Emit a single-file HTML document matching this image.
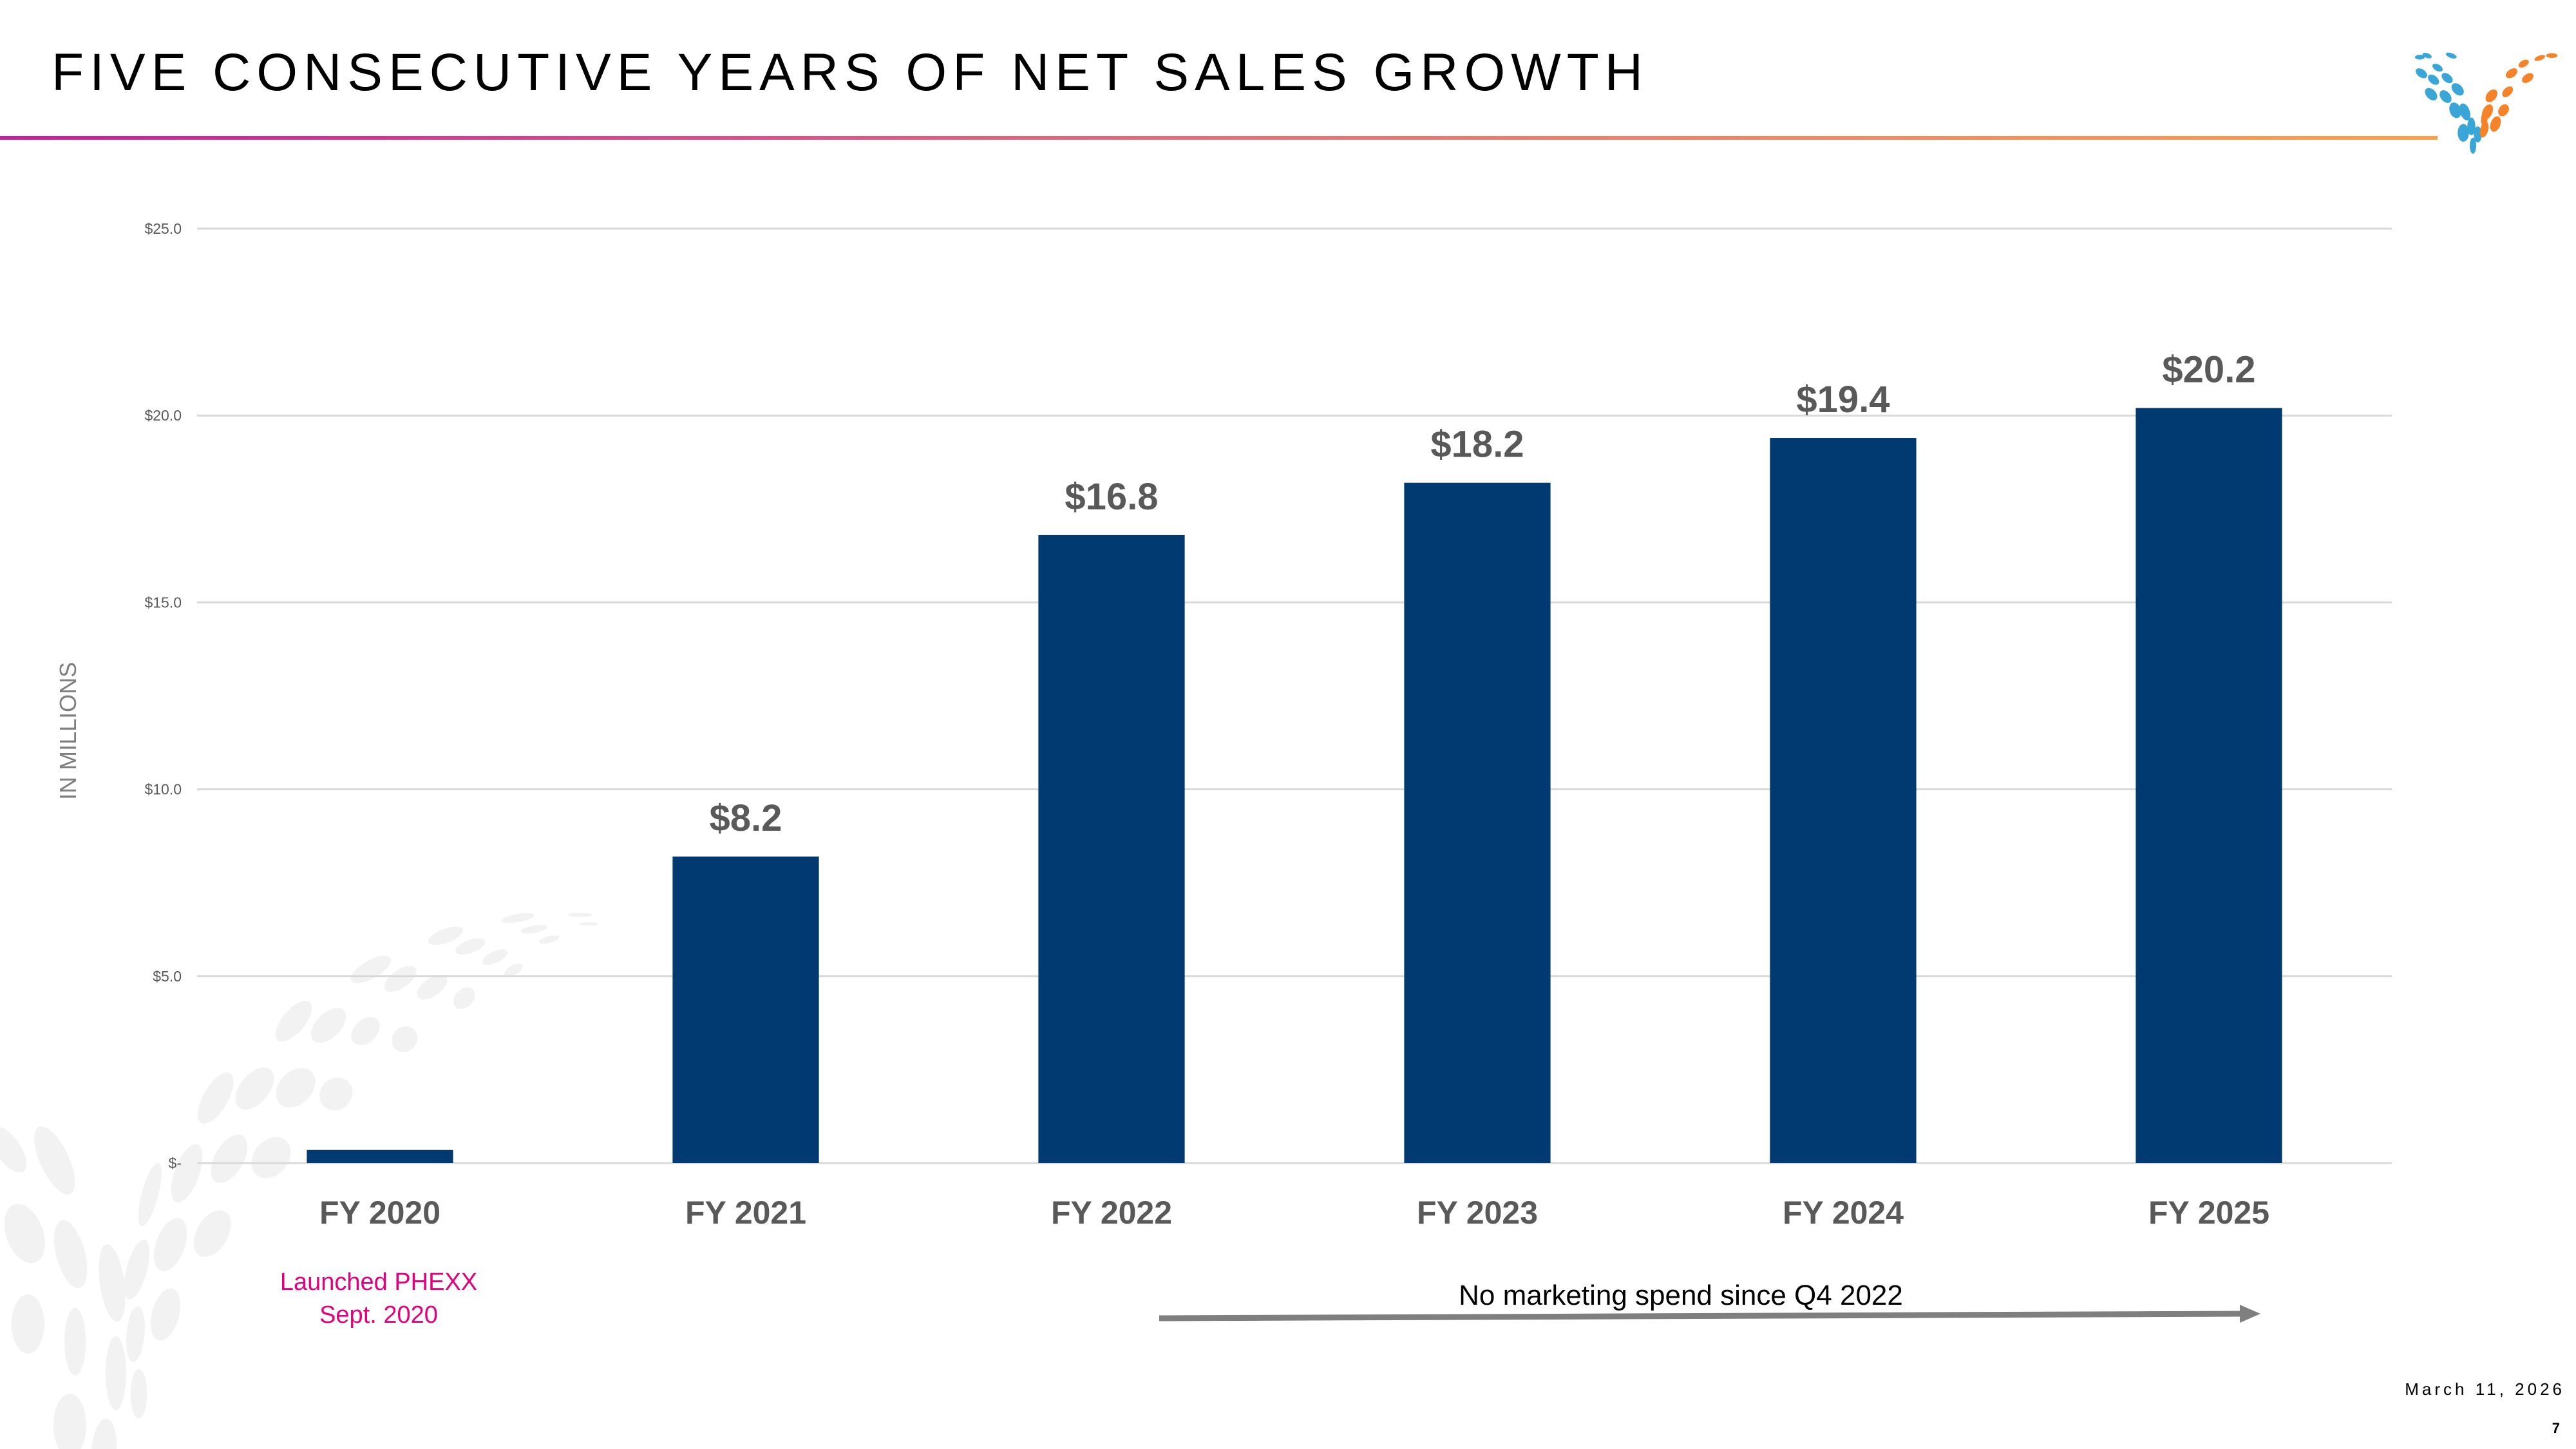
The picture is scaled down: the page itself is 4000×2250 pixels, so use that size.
<!DOCTYPE html>
<html><head><meta charset="utf-8"><style>
html,body{margin:0;padding:0;background:#fff;}
svg{display:block;}
text{font-family:"Liberation Sans",sans-serif;}
</style></head><body>
<svg id="chart" width="4000" height="2250" viewBox="0 0 4000 2250" xmlns="http://www.w3.org/2000/svg">
<defs>
<linearGradient id="hdr" x1="0" x2="1" y1="0" y2="0">
<stop offset="0" stop-color="#c4209a"/><stop offset="0.5" stop-color="#e5707a"/><stop offset="1" stop-color="#fba04a"/>
</linearGradient>
</defs>
<g fill="#f2f2f2" transform="translate(0 1300) scale(0.6378)">
<ellipse cx="1260" cy="197" rx="40" ry="10" transform="rotate(-10 1260 197)"/>
<ellipse cx="1300" cy="224" rx="33" ry="9" transform="rotate(-10 1300 224)"/>
<ellipse cx="1337" cy="249" rx="25" ry="8" transform="rotate(-15 1337 249)"/>
<ellipse cx="1413" cy="189" rx="30" ry="5"/>
<ellipse cx="1433" cy="211" rx="22" ry="4"/>
<ellipse cx="1085" cy="240" rx="45" ry="17" transform="rotate(-20 1085 240)"/>
<ellipse cx="1145" cy="266" rx="38" ry="16" transform="rotate(-20 1145 266)"/>
<ellipse cx="1205" cy="292" rx="33" ry="14" transform="rotate(-25 1205 292)"/>
<ellipse cx="1250" cy="324" rx="25" ry="12" transform="rotate(-30 1250 324)"/>
<ellipse cx="903" cy="322" rx="55" ry="22" transform="rotate(-30 903 322)"/>
<ellipse cx="975" cy="345" rx="45" ry="22" transform="rotate(-35 975 345)"/>
<ellipse cx="1052" cy="365" rx="42" ry="22" transform="rotate(-35 1052 365)"/>
<ellipse cx="1130" cy="392" rx="30" ry="22" transform="rotate(-45 1130 392)"/>
<ellipse cx="715" cy="448" rx="60" ry="28" transform="rotate(-50 715 448)"/>
<ellipse cx="800" cy="458" rx="52" ry="30" transform="rotate(-45 800 458)"/>
<ellipse cx="890" cy="472" rx="40" ry="28" transform="rotate(-45 890 472)"/>
<ellipse cx="985" cy="492" rx="33" ry="30" transform="rotate(-45 985 492)"/>
<ellipse cx="525" cy="635" rx="70" ry="30" transform="rotate(-60 525 635)"/>
<ellipse cx="620" cy="612" rx="60" ry="35" transform="rotate(-50 620 612)"/>
<ellipse cx="720" cy="610" rx="55" ry="40" transform="rotate(-45 720 610)"/>
<ellipse cx="818" cy="625" rx="42" ry="38" transform="rotate(-45 818 625)"/>
<ellipse cx="455" cy="818" rx="75" ry="30" transform="rotate(-70 455 818)"/>
<ellipse cx="558" cy="783" rx="65" ry="35" transform="rotate(-60 558 783)"/>
<ellipse cx="660" cy="780" rx="55" ry="42" transform="rotate(-50 660 780)"/>
<ellipse cx="365" cy="870" rx="80" ry="20" transform="rotate(-75 365 870)"/>
<ellipse cx="20" cy="760" rx="30" ry="65" transform="rotate(-35 20 760)"/>
<ellipse cx="133" cy="787" rx="35" ry="90" transform="rotate(-25 133 787)"/>
<ellipse cx="60" cy="965" rx="45" ry="75" transform="rotate(-20 60 965)"/>
<ellipse cx="172" cy="1015" rx="35" ry="85" transform="rotate(-15 172 1015)"/>
<ellipse cx="273" cy="1085" rx="30" ry="95" transform="rotate(-8 273 1085)"/>
<ellipse cx="333" cy="1052" rx="25" ry="75" transform="rotate(15 333 1052)"/>
<ellipse cx="415" cy="992" rx="35" ry="68" transform="rotate(20 415 992)"/>
<ellipse cx="517" cy="965" rx="38" ry="62" transform="rotate(30 517 965)"/>
<ellipse cx="68" cy="1185" rx="40" ry="72"/>
<ellipse cx="183" cy="1228" rx="26" ry="82"/>
<ellipse cx="282" cy="1305" rx="25" ry="90"/>
<ellipse cx="330" cy="1210" rx="22" ry="68" transform="rotate(5 330 1210)"/>
<ellipse cx="403" cy="1162" rx="33" ry="65" transform="rotate(15 403 1162)"/>
<ellipse cx="170" cy="1432" rx="40" ry="77"/>
<ellipse cx="253" cy="1490" rx="30" ry="75" transform="rotate(5 253 1490)"/>
<ellipse cx="338" cy="1355" rx="20" ry="60"/>
</g>
<text x="80" y="140" font-size="82" letter-spacing="9" fill="#000">FIVE CONSECUTIVE YEARS OF NET SALES GROWTH</text>
<rect x="0" y="211" width="3785" height="6" fill="url(#hdr)"/>
<g transform="translate(3750 80) scale(1.25) translate(-3780 -95)">
<g fill="#3aa6d8">
<ellipse cx="3795" cy="100" rx="6" ry="3" transform="rotate(20 3795 100)"/>
<ellipse cx="3808" cy="115" rx="7" ry="4" transform="rotate(30 3808 115)"/>
<ellipse cx="3825" cy="100" rx="7" ry="3" transform="rotate(20 3825 100)"/>
<ellipse cx="3786" cy="102" rx="6" ry="3"/>
<ellipse cx="3788" cy="122" rx="8" ry="5" transform="rotate(35 3788 122)"/>
<ellipse cx="3803" cy="130" rx="8" ry="5" transform="rotate(40 3803 130)"/>
<ellipse cx="3820" cy="128" rx="8" ry="5" transform="rotate(40 3820 128)"/>
<ellipse cx="3833" cy="142" rx="9" ry="6" transform="rotate(45 3833 142)"/>
<ellipse cx="3800" cy="148" rx="9" ry="6" transform="rotate(45 3800 148)"/>
<ellipse cx="3818" cy="151" rx="9" ry="6" transform="rotate(50 3818 151)"/>
<ellipse cx="3830" cy="168" rx="7" ry="10" transform="rotate(-20 3830 168)"/>
<ellipse cx="3842" cy="170" rx="6" ry="11" transform="rotate(-20 3842 170)"/>
<ellipse cx="3850" cy="188" rx="5" ry="11"/>
<ellipse cx="3858" cy="198" rx="5" ry="10"/>
<ellipse cx="3852" cy="212" rx="4" ry="10"/>
<ellipse cx="3840" cy="196" rx="7" ry="11"/>
</g>
<g fill="#f5832a">
<ellipse cx="3935" cy="103" rx="7" ry="3" transform="rotate(-20 3935 103)"/>
<ellipse cx="3950" cy="100" rx="7" ry="3"/>
<ellipse cx="3915" cy="110" rx="7" ry="4" transform="rotate(-30 3915 110)"/>
<ellipse cx="3920" cy="128" rx="8" ry="5" transform="rotate(-35 3920 128)"/>
<ellipse cx="3900" cy="122" rx="8" ry="5" transform="rotate(-35 3900 122)"/>
<ellipse cx="3895" cy="145" rx="8" ry="5" transform="rotate(-45 3895 145)"/>
<ellipse cx="3875" cy="150" rx="9" ry="6" transform="rotate(-50 3875 150)"/>
<ellipse cx="3890" cy="168" rx="8" ry="6" transform="rotate(-55 3890 168)"/>
<ellipse cx="3870" cy="170" rx="6" ry="10" transform="rotate(25 3870 170)"/>
<ellipse cx="3880" cy="185" rx="6" ry="10" transform="rotate(20 3880 185)"/>
<ellipse cx="3866" cy="192" rx="5" ry="10" transform="rotate(15 3866 192)"/>
<ellipse cx="3866" cy="180" rx="4" ry="9"/>
</g>
</g>
<g id="gridlines"></g>
<g id="yticks"></g>
<g id="bars"></g>
<g id="values"></g>
<g id="xlabels"></g>
<text transform="translate(118 1135) rotate(-90)" text-anchor="middle" font-size="36" fill="#7f7f7f">IN MILLIONS</text>
<g fill="#e3007d" font-size="38" text-anchor="middle">
<text x="588" y="2003">Launched PHEXX</text>
<text x="588" y="2054">Sept. 2020</text>
</g>
<text x="2610" y="2026" text-anchor="middle" font-size="44" fill="#000">No marketing spend since Q4 2022</text>
<g>
<path d="M1800 2047 L3480 2040" stroke="#7f7f7f" stroke-width="9" fill="none"/>
<path d="M3478 2026 L3510 2040 L3478 2054 Z" fill="#7f7f7f"/>
</g>
<text x="3983" y="2166" text-anchor="end" font-size="26" letter-spacing="5" fill="#000">March 11, 2026</text>
<text x="3975" y="2225" text-anchor="end" font-size="22" font-weight="bold" fill="#000">7</text>
</svg>
<script>
const categories = ["FY 2020","FY 2021","FY 2022","FY 2023","FY 2024","FY 2025"];
const values = [0.35, 8.2, 16.8, 18.2, 19.4, 20.2];
const valueLabels = ["", "$8.2", "$16.8", "$18.2", "$19.4", "$20.2"];
const yTicks = [0, 5, 10, 15, 20, 25];
const yTickLabels = ["$-", "$5.0", "$10.0", "$15.0", "$20.0", "$25.0"];

const NS = "http://www.w3.org/2000/svg";
const plotL = 306, plotR = 3714, plotTop = 355, plotBot = 1806, yMax = 25;
const band = (plotR - plotL) / categories.length;
function y(v){ return plotBot - (v / yMax) * (plotBot - plotTop); }
function xc(i){ return plotL + band * (i + 0.5); }
function mk(tag, attrs, parent){ const e = document.createElementNS(NS, tag); for (const k in attrs) e.setAttribute(k, attrs[k]); parent.appendChild(e); return e; }

const grid = document.getElementById('gridlines');
const yt = document.getElementById('yticks');
yTicks.forEach((t, i) => {
  const l = mk('line', {x1: plotL, x2: plotR, y1: y(t), y2: y(t), stroke: '#d9d9d9', 'stroke-width': 3}, grid);
  
  
  const tx = mk('text', {x: 282, y: y(t) + 8, 'text-anchor': 'end', 'font-size': 23, fill: '#595959'}, yt);
  tx.textContent = yTickLabels[i];
  
  
});

const bars = document.getElementById('bars');
const vals = document.getElementById('values');
const xl = document.getElementById('xlabels');
const bw = band * 0.4;
categories.forEach((c, i) => {
  const r = mk('rect', {x: xc(i) - bw / 2, y: y(values[i]), width: bw, height: plotBot - y(values[i]), fill: '#003a70'}, bars);
  
  
  if (valueLabels[i]) {
    const v = mk('text', {x: xc(i), y: y(values[i]) - 40, 'text-anchor': 'middle', 'font-size': 58, 'font-weight': 'bold', fill: '#595959'}, vals);
    v.textContent = valueLabels[i];
    
    
  }
  const t = mk('text', {x: xc(i), y: 1900, 'text-anchor': 'middle', 'font-size': 50, 'font-weight': 'bold', fill: '#595959'}, xl);
  t.textContent = c;
  
  
});
</script>
</body></html>
